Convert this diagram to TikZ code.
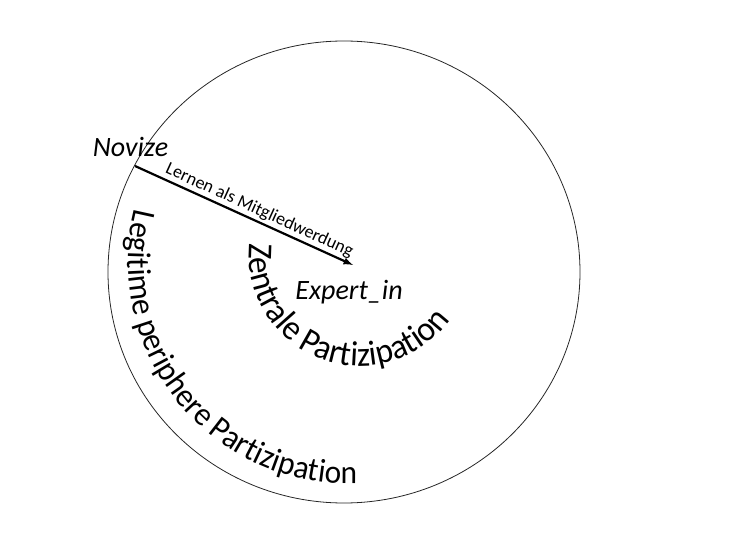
\documentclass[tikz,border=0pt]{standalone}
\usepackage{fontspec}
\setmainfont{Carlito}
\newfontfamily\bogenfont[FakeStretch=0.95]{Carlito}
\usepackage{tikz}
\usetikzlibrary{arrows,decorations.text}

\begin{document}
\begin{tikzpicture}[x=1pt,y=1pt,
			rolle/.style={font=\itshape\fontsize{28}{28}\selectfont, inner sep=0pt},
			weg/.style={black,line width=2.2pt,-latex},
			bahn/.style={decorate, decoration={text along path, text align=left, text={#1}}}]
		\useasboundingbox (0,0) rectangle (740,555);
		\draw [black!85, line width=0.8pt] (344,283) ellipse [x radius=236, y radius=231];
		\path 	(130.5,398) node 	(novize) [rolle, anchor=base] {Novize}
		        (349,255) node 	(expert) [rolle, anchor=base] {Expert\_in};
		\coordinate (a0) at (135,389);
		\coordinate (a1) at (353,290);
		\draw [weg] (a0) -- node [pos=0.55, above, sloped, font=\fontsize{18}{18}\selectfont, inner sep=2pt] {Lernen als Mitgliedwerdung} (a1);
		% Kreisbahnen
		\path [bahn={|\bogenfont\fontsize{35}{35}\selectfont|Zentrale Partizipation}] ([shift={(174:111)}]360,300) arc [start angle=174, end angle=345, radius=111];
		\path [bahn={|\bogenfont\fontsize{33}{33}\selectfont|Legitime periphere Partizipation}] ([shift={(166:222)}]350,293) arc [start angle=166, end angle=285, radius=222];
	\end{tikzpicture}
\end{document}
